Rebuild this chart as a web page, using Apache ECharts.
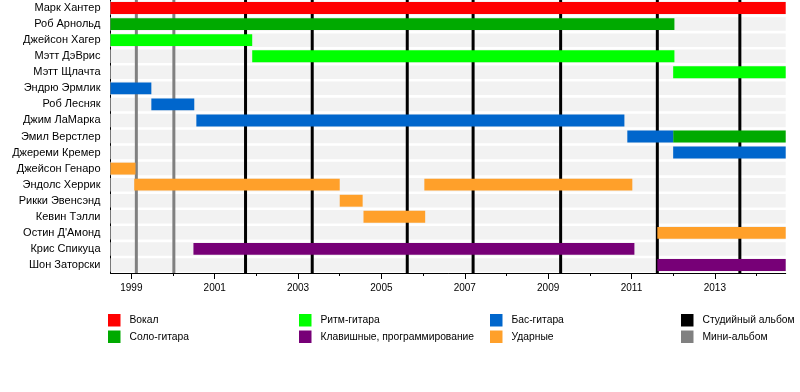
<!DOCTYPE html>
<html><head><meta charset="utf-8">
<script src="https://cdn.jsdelivr.net/npm/echarts@6/dist/echarts.min.js"></script>
<style>html,body{margin:0;padding:0;background:#fff}#c{width:800px;height:392px}</style>
</head><body><div id="c"></div>
<script>
const members = ['Марк Хантер','Роб Арнольд','Джейсон Хагер','Мэтт ДэВрис','Мэтт Щлачта','Эндрю Эрмлик','Роб Лесняк','Джим ЛаМарка','Эмил Верстлер','Джереми Кремер','Джейсон Генаро','Эндолс Херрик','Рикки Эвенсэнд','Кевин Тэлли','Остин Д\'Амонд','Крис Спикуца','Шон Заторски'];
const startYear = 1998.5;
const endYear = 2014.7;
// [row, start, end]
const vocals = [[0,1998.5,2014.7]];
const leadGuitar = [[1,1998.5,2012.03],[8,2012.0,2014.7]];
const rhythmGuitar = [[2,1998.5,2001.9],[3,2001.9,2012.03],[4,2012.0,2014.7]];
const bass = [[5,1998.5,1999.48],[6,1999.48,2000.51],[7,2000.56,2010.83],[8,2010.9,2012.0],[9,2012.0,2014.7]];
const keyboards = [[15,2000.49,2011.07],[16,2011.62,2014.7]];
const drums = [[10,1998.5,1999.1],[11,1999.07,2004.0],[11,2006.03,2011.02],[12,2004.0,2004.55],[13,2004.57,2006.05],[14,2011.62,2014.7]];
const studioAlbums = [2001.74,2003.34,2005.62,2007.2,2009.3,2011.62,2013.6];
const miniAlbums = [1999.12,2000.02];
const yearLabels = [1999,2001,2003,2005,2007,2009,2011,2013];
const minorYears = [2000,2002,2004,2006,2008,2010,2012,2014];

const roleNames = ['Вокал','Соло-гитара','Ритм-гитара','Клавишные, программирование','Бас-гитара','Ударные','Студийный альбом','Мини-альбом'];
const roleColors = ['#ff0000','#00aa00','#00ff00','#770077','#0066cc','#ffa02a','#000000','#808080'];

function barRender(params, api){
  const row = api.value(0);
  const p0 = api.coord([api.value(1), row]);
  const p1 = api.coord([api.value(2), row]);
  const h = api.size([0,1])[1]*0.74;
  return {type:'rect', shape:{x:p0[0], y:p0[1]-h/2, width:p1[0]-p0[0], height:h}, style:{fill:api.visual('color')}};
}
function stripeRender(params, api){
  const row = api.value(0);
  const p0 = api.coord([startYear, row]);
  const p1 = api.coord([endYear, row]);
  const h = api.size([0,1])[1]*0.84;
  return {type:'rect', shape:{x:p0[0], y:p0[1]-h/2, width:p1[0]-p0[0], height:h}, style:{fill:'#f2f2f2'}};
}
function lineRender(params, api){
  const p = api.coord([api.value(0), 0]);
  const cs = params.coordSys;
  return {type:'rect', shape:{x:p[0]-1.5, y:cs.y, width:3, height:cs.height}, style:{fill:api.visual('color')}};
}
function barSeries(name, color, data){
  return {type:'custom', name:name, renderItem:barRender, itemStyle:{color:color}, encode:{x:[1,2], y:0}, data:data, z:3, silent:true};
}
function lineSeries(name, color, vals){
  return {type:'custom', name:name, renderItem:lineRender, itemStyle:{color:color}, encode:{x:0}, data:vals.map(v=>[v]), z:2, silent:true};
}
const rows = members.map((m,i)=>[i]);

const legendBase = {orient:'vertical', top:314, padding:0, itemWidth:12.5, itemHeight:12.5, itemGap:4, icon:'rect', selectedMode:false,
  textStyle:{fontFamily:'Liberation Sans', fontSize:10.3, color:'#000', padding:[0,0,0,4]}};

const chart = echarts.init(document.getElementById('c'));
chart.setOption({
  animation:false,
  grid:{left:110.5, right:14.3, top:-2, height:275, containLabel:false},
  legend:[
    Object.assign({left:108, data:[roleNames[0],roleNames[1]]}, legendBase),
    Object.assign({left:299, data:[roleNames[2],roleNames[3]]}, legendBase),
    Object.assign({left:490, data:[roleNames[4],roleNames[5]]}, legendBase),
    Object.assign({left:681, data:[roleNames[6],roleNames[7]]}, legendBase)
  ],
  xAxis:[
    {type:'value', min:startYear, max:endYear, position:'bottom',
     axisLine:{show:true, lineStyle:{color:'#000', width:1}},
     axisTick:{show:true, length:6, customValues:yearLabels, lineStyle:{color:'#000'}},
     axisLabel:{customValues:yearLabels, formatter:v=>String(Math.round(v)), fontFamily:'Liberation Sans', fontSize:10, color:'#000', margin:10},
     splitLine:{show:false}},
    {type:'value', min:startYear, max:endYear, position:'bottom',
     axisLine:{show:false},
     axisTick:{show:true, length:3, customValues:minorYears, lineStyle:{color:'#000'}},
     axisLabel:{show:false},
     splitLine:{show:false}}
  ],
  yAxis:{type:'category', data:members, inverse:true,
    axisLine:{show:true, lineStyle:{color:'#000', width:1}},
    axisTick:{show:false},
    axisLabel:{fontFamily:'Liberation Sans', fontSize:11, color:'#000', margin:10},
    splitLine:{show:false}},
  series:[
    {type:'custom', name:'stripes', renderItem:stripeRender, encode:{y:0}, data:rows, z:1, silent:true},
    lineSeries(roleNames[6], roleColors[6], studioAlbums),
    lineSeries(roleNames[7], roleColors[7], miniAlbums),
    barSeries(roleNames[0], roleColors[0], vocals),
    barSeries(roleNames[1], roleColors[1], leadGuitar),
    barSeries(roleNames[2], roleColors[2], rhythmGuitar),
    barSeries(roleNames[3], roleColors[3], keyboards),
    barSeries(roleNames[4], roleColors[4], bass),
    barSeries(roleNames[5], roleColors[5], drums)
  ]
});
</script>
</body></html>
